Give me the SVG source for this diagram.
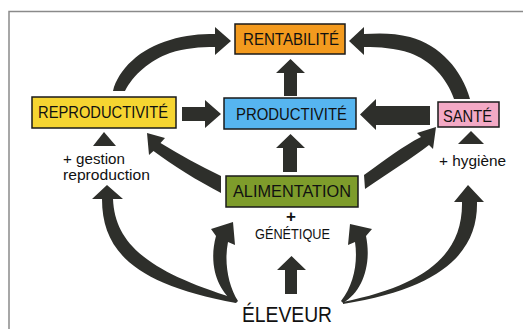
<svg xmlns="http://www.w3.org/2000/svg" width="523" height="329" viewBox="0 0 523 329">
<style>
.arr{fill:#2e2f2b;stroke:none}
.box{stroke:#1a1a1a;stroke-width:1.5}
.lbl{font-family:"Liberation Sans",Arial,sans-serif;font-size:16.5px;fill:#111}
.sm{font-family:"Liberation Sans",Arial,sans-serif;font-size:14.5px;fill:#111}
</style>
<rect x="0" y="0" width="523" height="329" fill="#ffffff"/>
<path d="M9,329 L9,11.5 L523,11.5" fill="none" stroke="#8a8a8a" stroke-width="1.5"/>
<g id="connectors">
  <path class="arr" d="M113,91 C118,70 140,48 170,40 C185,35 200,34 215,34 L215,27 L231,41 L215,55 L215,47 C200,47 185,48 170,53 C150,60 133,75 125,91 Z"/>
  <path class="arr" d="M470,99 C462,70 440,45 410,37 C395,33 380,33 364,34 L364,27 L349,41 L364,55 L364,47 C380,47 395,48 410,53 C430,60 447,78 454,99 Z"/>
  <path class="arr" d="M182,107 L205,107 L205,100 L221,114 L205,128 L205,121 L182,121 Z"/>
  <path class="arr" d="M430,106 L376,106 L376,99 L360,114.5 L376,130 L376,125 L430,125 Z"/>
  <path class="arr" d="M284,96 L284,73 L276,73 L290.5,59 L305,73 L297,73 L297,96 Z"/>
  <path class="arr" d="M283,172 L283,148 L276,148 L290.5,134 L305,148 L297,148 L297,172 Z"/>
  <path class="arr" d="M285,294 L285,270 L277,270 L291.5,256 L306,270 L297,270 L297,294 Z"/>
  <path class="arr" d="M147,133 L165,138 L160.5,143 C180,155 200,166 221,176 L221,193 C198,181 172,165 153.5,151 L149,155 Z"/>
  <path class="arr" d="M364,175 C385,160 403,146 421,137 L417,133 L436,127 L433,149 L429,145 C412,158 390,172 365,189 Z"/>
  <path class="arr" d="M107,185 L123,199 L113,199 C115,245 150,272 234,298 L236,303 C140,285 102,255 102,199 L92,199 Z"/>
  <path class="arr" d="M236,303 C218,292 208,265 216,236 L211,229 L233,222 L235,245 L228,242 C224,262 228,285 238,301 Z"/>
  <path class="arr" d="M343,303 C362,292 372,265 366,236 L372,229 L350,224 L348,245 L355,242 C358,262 354,285 341,301 Z"/>
  <path class="arr" d="M468,185 L484,202 L477,202 C478,250 445,288 343,304 L343,302 C425,285 463,255 462,202 L454,202 Z"/>
</g>
<g id="rentabilite">
  <rect class="box" x="235" y="24" width="110" height="30" fill="#f39a1e"/>
  <text class="lbl" x="243" y="45" textLength="96" lengthAdjust="spacingAndGlyphs">RENTABILITÉ</text>
</g>
<g id="reproductivite">
  <rect class="box" x="32" y="97" width="144" height="31" fill="#f6d531"/>
  <text class="lbl" x="38" y="118" textLength="130" lengthAdjust="spacingAndGlyphs">REPRODUCTIVITÉ</text>
</g>
<g id="productivite">
  <rect class="box" x="224" y="98" width="132" height="31" fill="#56b5f0"/>
  <text class="lbl" x="236" y="120" textLength="111" lengthAdjust="spacingAndGlyphs">PRODUCTIVITÉ</text>
</g>
<g id="sante">
  <rect class="box" x="438" y="102" width="61" height="25" fill="#f3a9c5"/>
  <text class="lbl" x="443" y="122" textLength="49" lengthAdjust="spacingAndGlyphs">SANTÉ</text>
</g>
<g id="alimentation">
  <rect class="box" x="226" y="176" width="132" height="31" fill="#7e9c2b"/>
  <text class="lbl" x="233" y="197" textLength="118" lengthAdjust="spacingAndGlyphs">ALIMENTATION</text>
</g>
<g id="gestion">
  <path class="arr" d="M104,132 L116,146 L93,146 Z"/>
  <text class="sm" x="63" y="164" textLength="62" lengthAdjust="spacingAndGlyphs">+ gestion</text>
  <text class="sm" x="63" y="180" textLength="87" lengthAdjust="spacingAndGlyphs">reproduction</text>
</g>
<g id="hygiene">
  <path class="arr" d="M471,131 L484,144 L458,144 Z"/>
  <text class="sm" x="439" y="166" textLength="67" lengthAdjust="spacingAndGlyphs">+ hygiène</text>
</g>
<g id="genetique">
  <text x="291" y="222" text-anchor="middle" font-family="Liberation Sans,Arial,sans-serif" font-size="17" font-weight="bold" fill="#111">+</text>
  <text x="255" y="239" font-family="Liberation Sans,Arial,sans-serif" font-size="14" fill="#111" textLength="75" lengthAdjust="spacingAndGlyphs">GÉNÉTIQUE</text>
</g>
<g id="eleveur">
  <text x="242" y="322" font-family="Liberation Sans,Arial,sans-serif" font-size="21.5" fill="#111" textLength="90" lengthAdjust="spacingAndGlyphs">ÉLEVEUR</text>
</g>
</svg>
